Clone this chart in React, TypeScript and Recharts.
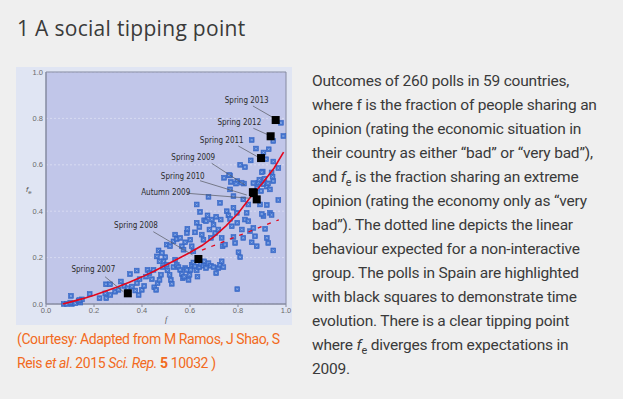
import React from 'react';
import { ScatterChart, Scatter, XAxis, YAxis, CartesianGrid, ReferenceArea, Label } from 'recharts';

// ---- data ----
const POLL_F = [
  0.074, 0.087, 0.108, 0.101, 0.122, 0.143, 0.136, 0.104, 0.150, 0.182, 0.223, 0.251, 0.247, 0.268, 0.288, 0.302,
  0.312, 0.326, 0.340, 0.358, 0.372, 0.379, 0.390, 0.386, 0.399, 0.409, 0.417, 0.423, 0.431, 0.441, 0.448, 0.451,
  0.459, 0.465, 0.473, 0.479, 0.487, 0.490, 0.497, 0.503, 0.506, 0.515, 0.520, 0.524, 0.531, 0.538, 0.545, 0.552,
  0.559, 0.566, 0.570, 0.576, 0.580, 0.587, 0.594, 0.598, 0.603, 0.607, 0.614, 0.621, 0.628, 0.631, 0.639, 0.645,
  0.656, 0.659, 0.667, 0.677, 0.687, 0.698, 0.709, 0.718, 0.725, 0.732, 0.739, 0.469, 0.462, 0.473, 0.483, 0.503,
  0.517, 0.531, 0.538, 0.545, 0.559, 0.566, 0.573, 0.580, 0.587, 0.589, 0.601, 0.607, 0.614, 0.621, 0.628, 0.628,
  0.639, 0.642, 0.649, 0.656, 0.659, 0.667, 0.673, 0.677, 0.681, 0.687, 0.691, 0.698, 0.705, 0.709, 0.718, 0.725,
  0.728, 0.732, 0.736, 0.746, 0.753, 0.760, 0.767, 0.774, 0.781, 0.781, 0.788, 0.795, 0.797, 0.802, 0.809, 0.797,
  0.816, 0.822, 0.829, 0.836, 0.843, 0.850, 0.857, 0.864, 0.871, 0.878, 0.892, 0.906, 0.913, 0.920, 0.926, 0.933,
  0.947, 0.968, 0.770, 0.797, 0.767, 0.781, 0.885, 0.896, 0.906, 0.920, 0.933, 0.947, 0.843, 0.822, 0.979, 0.989,
  0.947, 0.857, 0.875, 0.906, 0.928, 0.947, 0.853, 0.809, 0.829, 0.917, 0.968, 0.940, 0.903, 0.742, 0.767, 0.792,
  0.825, 0.864, 0.889, 0.763, 0.815, 0.899, 0.944, 0.920, 0.899, 0.940, 0.880, 0.910, 0.925, 0.139, 0.250, 0.267,
  0.350, 0.378,
];
const POLL_FE = [
  0.000, 0.000, 0.000, 0.006, 0.003, 0.006, 0.014, 0.035, 0.020, 0.043, 0.025, 0.025, 0.046, 0.039, 0.053, 0.061,
  0.097, 0.078, 0.068, 0.075, 0.058, 0.090, 0.107, 0.039, 0.061, 0.078, 0.118, 0.147, 0.133, 0.107, 0.147, 0.072,
  0.061, 0.090, 0.104, 0.126, 0.159, 0.184, 0.202, 0.169, 0.145, 0.126, 0.104, 0.087, 0.159, 0.191, 0.169, 0.159,
  0.147, 0.130, 0.111, 0.118, 0.155, 0.147, 0.104, 0.126, 0.147, 0.169, 0.179, 0.162, 0.145, 0.118, 0.159, 0.173,
  0.165, 0.184, 0.155, 0.176, 0.165, 0.159, 0.133, 0.155, 0.169, 0.184, 0.159, 0.231, 0.205, 0.184, 0.220, 0.256,
  0.249, 0.270, 0.299, 0.280, 0.285, 0.249, 0.234, 0.266, 0.306, 0.324, 0.277, 0.249, 0.227, 0.309, 0.350, 0.429,
  0.332, 0.397, 0.299, 0.277, 0.361, 0.357, 0.382, 0.462, 0.321, 0.285, 0.364, 0.342, 0.306, 0.376, 0.321, 0.436,
  0.364, 0.285, 0.249, 0.256, 0.400, 0.382, 0.367, 0.335, 0.415, 0.289, 0.263, 0.393, 0.350, 0.223, 0.202, 0.064,
  0.321, 0.285, 0.364, 0.393, 0.357, 0.314, 0.266, 0.328, 0.292, 0.249, 0.429, 0.379, 0.324, 0.285, 0.263, 0.393,
  0.231, 0.448, 0.526, 0.530, 0.494, 0.465, 0.523, 0.487, 0.516, 0.506, 0.494, 0.530, 0.429, 0.451, 0.781, 0.724,
  0.703, 0.707, 0.670, 0.653, 0.667, 0.614, 0.619, 0.600, 0.590, 0.624, 0.586, 0.567, 0.571, 0.544, 0.554, 0.519,
  0.519, 0.521, 0.536, 0.556, 0.523, 0.568, 0.549, 0.427, 0.388, 0.384, 0.500, 0.540, 0.520, 0.017, 0.085, 0.085,
  0.129, 0.144,
];

const SPAIN_LABELS = ['Spring 2007', 'Spring 2008', 'Spring 2009', 'Spring 2010', 'Autumn 2009', 'Spring 2011', 'Spring 2012', 'Spring 2013'];
const SPAIN_F = [0.341, 0.635, 0.862, 0.866, 0.878, 0.896, 0.936, 0.957];
const SPAIN_FE = [0.046, 0.194, 0.482, 0.478, 0.451, 0.629, 0.723, 0.793];

const CURVE_F = [0.07, 0.1, 0.15, 0.2, 0.25, 0.3, 0.35, 0.4, 0.45, 0.5, 0.55, 0.6, 0.65, 0.7, 0.75, 0.8, 0.85, 0.9, 0.95, 0.99];
const CURVE_FE = [0.0, 0.008, 0.022, 0.038, 0.056, 0.074, 0.095, 0.117, 0.141, 0.168, 0.195, 0.222, 0.252, 0.29, 0.337, 0.39, 0.458, 0.518, 0.585, 0.655];

const LINEAR_F = [0.65, 0.97];
const LINEAR_FE = [0.232, 0.363];

const TICKS = [0, 0.2, 0.4, 0.6, 0.8, 1.0];

// ---- layout of annotation labels (pixel offsets from each square) ----
const LABEL_LAYOUT: Record<string, { tx: number; ty: number; l: [number, number, number, number] }> = {
  'Spring 2007': { tx: -34.5, ty: -24, l: [-22.8, -16.6, -4.5, -1.6] },
  'Spring 2008': { tx: -62.4, ty: -33.3, l: [-45.1, -27.3, -5.7, -4] },
  'Spring 2009': { tx: -59.6, ty: -34.9, l: [-41.2, -28.9, -7.9, -7.2] },
  'Spring 2010': { tx: -71.1, ty: -17.1, l: [-53.8, -12.4, -7.1, 1.9] },
  'Autumn 2009': { tx: -91, ty: -6.7, l: [-69.7, -6.1, -6.7, -1.1] },
  'Spring 2011': { tx: -39.3, ty: -17.1, l: [-22.7, -12.1, -3.7, -1.4] },
  'Spring 2012': { tx: -31.3, ty: -13.6, l: [-17.3, -8, -2.3, -1.3] },
  'Spring 2013': { tx: -29, ty: -19.7, l: [-22.7, -14, -3, -2.7] },
};

const polls = POLL_F.map((x, i) => ({ x, y: POLL_FE[i] }));
const spain = SPAIN_F.map((x, i) => ({ x, y: SPAIN_FE[i], label: SPAIN_LABELS[i] }));
const curve = CURVE_F.map((x, i) => ({ x, y: CURVE_FE[i] }));
const linear = LINEAR_F.map((x, i) => ({ x, y: LINEAR_FE[i] }));

const PollMarker = (p: any) => {
  const { cx, cy } = p;
  if (cx == null || cy == null) return <g />;
  const s = 0.9;
  return (
    <g>
      <rect x={cx - 2.4} y={cy - 2.4} width={4.8} height={4.8} fill="#4474cf" stroke="#3565c4" strokeWidth={0.6} />
      <path d={`M${cx - s},${cy - s}L${cx + s},${cy + s}M${cx + s},${cy - s}L${cx - s},${cy + s}`} stroke="#a3bbea" strokeWidth={0.7} />
    </g>
  );
};

const SpainMarker = (p: any) => {
  const { cx, cy, payload } = p;
  if (cx == null || cy == null) return <g />;
  const lay = LABEL_LAYOUT[payload.label];
  return (
    <g>
      <line x1={cx + lay.l[0]} y1={cy + lay.l[1]} x2={cx + lay.l[2]} y2={cy + lay.l[3]} stroke="#55575f" strokeWidth={0.7} />
      <rect x={cx - 4} y={cy - 4} width={8} height={8} fill="#000" />
      <text x={cx + lay.tx} y={cy + lay.ty} textAnchor="middle" dominantBaseline="central" fontSize={8} fill="#2b2b2b"
        fontFamily="'Liberation Sans Narrow', 'Arial Narrow', 'DejaVu Sans Condensed', sans-serif">
        {payload.label}
      </text>
    </g>
  );
};

const NoShape = () => <g />;

const YLabel = (p: any) => {
  const vb = p.viewBox || {};
  const x = vb.x + 10;
  const y = vb.y + vb.height / 2 + 4;
  return (
    <text x={x} y={y} fontSize={8} fill="#555" fontFamily="'Liberation Sans', sans-serif">
      <tspan fontStyle="italic">f</tspan>
      <tspan fontSize={6} dy={2}>e</tspan>
    </text>
  );
};

const tickStyle = { fontSize: 7.5, fill: '#6a6a6a', fontFamily: "'Liberation Sans', Arial, sans-serif" };

export default function App() {
  return (
    <div style={{ position: 'absolute', left: 0, top: 0, width: 623, height: 399, background: '#efefef', overflow: 'hidden' }}>
      <div style={{ position: 'absolute', left: 17, top: 14, fontSize: 21, lineHeight: '28px', letterSpacing: '0.3px', color: '#3a3a3a', fontFamily: "'Open Sans', 'Liberation Sans', sans-serif", whiteSpace: 'nowrap' }}>
        1 A social tipping point
      </div>

      <div style={{ position: 'absolute', left: 16, top: 67, width: 276, height: 258, background: '#e0e5f3' }}>
        <ScatterChart width={276} height={258} margin={{ top: 5, right: 6, bottom: 0, left: 0 }}>
          <CartesianGrid vertical={false} stroke="#dfe3f5" strokeOpacity={0.7} strokeDasharray="2 2" fill="#c1c6e9" fillOpacity={1} />
          <XAxis type="number" dataKey="x" domain={[0, 1]} ticks={TICKS} tickFormatter={(v: number) => v.toFixed(1)}
            tick={tickStyle} axisLine={{ stroke: '#858aa0' }} tickLine={{ stroke: '#858aa0' }} tickSize={3} tickMargin={1} height={21} interval={0}>
            <Label value="f" position="insideBottom" offset={3} fontSize={8} fontStyle="italic" fill="#555" />
          </XAxis>
          <YAxis type="number" dataKey="y" domain={[0, 1]} ticks={TICKS} tickFormatter={(v: number) => v.toFixed(1)}
            tick={tickStyle} axisLine={{ stroke: '#858aa0' }} tickLine={false} tickSize={0} tickMargin={3} width={30} interval={0}>
            <Label content={YLabel} />
          </YAxis>
          <ReferenceArea x1={0} x2={1} y1={0} y2={1} fill="none" stroke="#858aa0" strokeWidth={1} ifOverflow="visible" />
          <Scatter data={polls} shape={PollMarker} isAnimationActive={false} />
          <Scatter data={curve} shape={NoShape} line={{ stroke: '#e3061c', strokeWidth: 1.6 }} isAnimationActive={false} />
          <Scatter data={linear} shape={NoShape} line={{ stroke: '#e3061c', strokeWidth: 1.3, strokeDasharray: '4 6' }} isAnimationActive={false} />
          <Scatter data={spain} shape={SpainMarker} isAnimationActive={false} />
        </ScatterChart>
      </div>

      <div style={{ position: 'absolute', left: 17, top: 328, fontSize: 14, lineHeight: '23.5px', letterSpacing: '-0.4px', color: '#f26a21', fontFamily: "'Roboto', 'Liberation Sans', sans-serif", whiteSpace: 'nowrap' }}>
        (Courtesy: Adapted from M Ramos, J Shao, S<br />
        Reis <i>et al</i>. 2015 <i>Sci. Rep.</i> <b>5</b> 10032 )
      </div>

      <div style={{ position: 'absolute', left: 312, top: 69, fontSize: 15.5, lineHeight: '24px', letterSpacing: '-0.2px', color: '#3a3a3a', fontFamily: "'Roboto', 'Liberation Sans', sans-serif", whiteSpace: 'nowrap' }}>
        Outcomes of 260 polls in 59 countries,<br />
        where f is the fraction of people sharing an<br />
        opinion (rating the economic situation in<br />
        their country as either “bad” or “very bad”),<br />
        and <i>f</i><sub style={{ fontSize: '0.7em', lineHeight: 0 }}>e</sub> is the fraction sharing an extreme<br />
        opinion (rating the economy only as “very<br />
        bad”). The dotted line depicts the linear<br />
        behaviour expected for a non-interactive<br />
        group. The polls in Spain are highlighted<br />
        with black squares to demonstrate time<br />
        evolution. There is a clear tipping point<br />
        where <i>f</i><sub style={{ fontSize: '0.7em', lineHeight: 0 }}>e</sub> diverges from expectations in<br />
        2009.
      </div>
    </div>
  );
}
